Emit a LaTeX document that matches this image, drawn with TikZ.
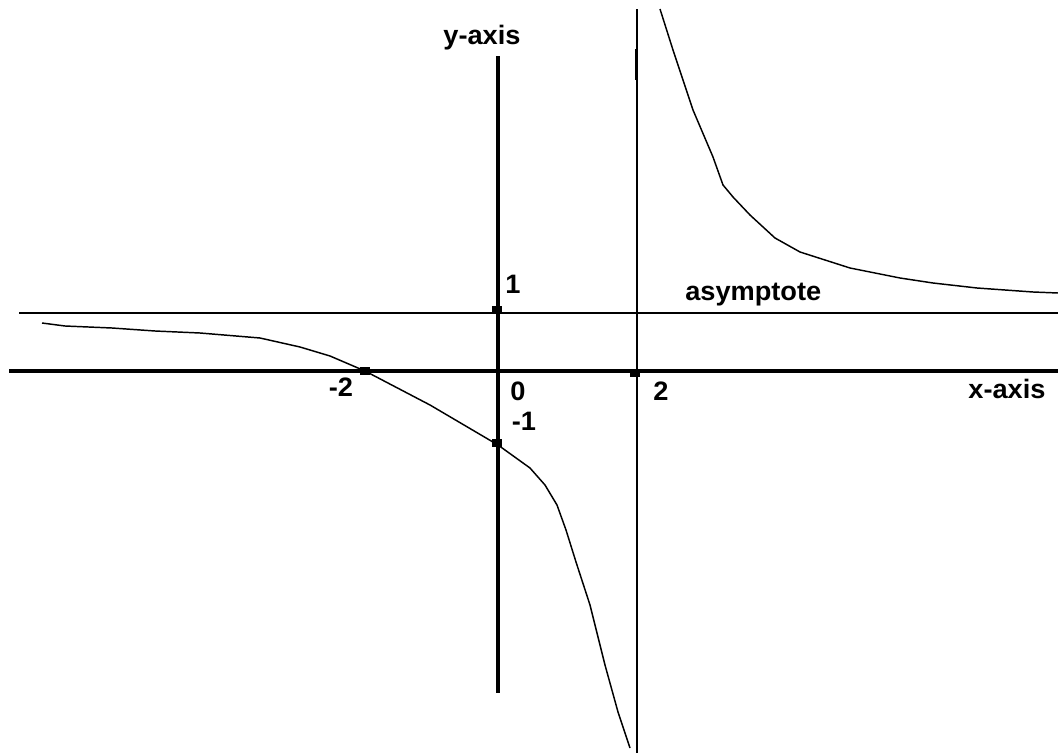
\documentclass[tikz,border=0pt]{standalone}
\usepackage{fontspec}
\newfontfamily\lab{Liberation Sans Bold}[FakeStretch=1.02]
\begin{document}
\begin{tikzpicture}[x=0.75pt,y=-0.75pt,
  thickaxis/.style={line width=3.2pt},
  thinline/.style={line width=1.3pt},
  curve/.style={line width=1.1pt,line join=round},
  tick/.style={fill=black,draw=none,minimum width=7.5pt,minimum height=5.5pt,inner sep=0pt},
  lbl/.style={font=\lab\fontsize{20}{22}\selectfont,inner sep=0pt}]
\useasboundingbox[fill=white] (0,0) rectangle (1058,753);
% axis end points
\coordinate (xl) at (9,371);
\coordinate (xr) at (1058,371);
\coordinate (yt) at (498,56);
\coordinate (yb) at (498,693);
\coordinate (hal) at (19,313);
\coordinate (har) at (1058,313);
\coordinate (vat) at (637,9);
\coordinate (vab) at (637,753);
\coordinate (vbt) at (636.5,49);
\coordinate (vbb) at (636.5,80);
% axes and asymptotes
\draw[thickaxis] (xl) -- (xr);
\draw[thickaxis] (yt) -- (yb);
\draw[thinline] (hal) -- (har);
\draw[thinline] (vat) -- (vab);
\draw[line width=2.6pt] (vbt) -- (vbb);
% tick marks
\node[tick] (t1) at (497,310) {};
\node[tick] (tm2) at (365,371) {};
\node[tick] (t2) at (635,373) {};
\node[tick] (tm1) at (497,443) {};
% left branch
\draw[curve] (42,323) -- (65,326) -- (112,328) -- (155,331) -- (200,333)
  -- (260,338) -- (300,347) -- (330,356) -- (365,371) -- (430,405)
  -- (498,445) -- (530,468) -- (545,485) -- (557,505) -- (566,530)
  -- (576,562) -- (590,605) -- (605,665) -- (618,712) -- (630,748);
% right branch
\draw[curve] (660,9) -- (673,50) -- (693,110) -- (713,157) -- (723,185)
  -- (733,197) -- (750,215) -- (775,238) -- (800,252) -- (850,268)
  -- (900,278) -- (933,283) -- (977,288) -- (1033,292) -- (1058,293);
% labels
\node[lbl,anchor=base] (ylab) at (482,44) {y-axis};
\node[lbl,anchor=base] (xlab) at (1007,398) {x-axis};
\node[lbl,anchor=base] (l1) at (513,293) {1};
\node[lbl,anchor=base west] (asy) at (685,300) {asymptote};
\node[lbl,anchor=base] (lm2) at (341,396) {-2};
\node[lbl,anchor=base] (l0) at (518,400) {0};
\node[lbl,anchor=base] (lm1) at (524,430) {-1};
\node[lbl,anchor=base] (l2) at (661,400) {2};
\end{tikzpicture}
\end{document}
